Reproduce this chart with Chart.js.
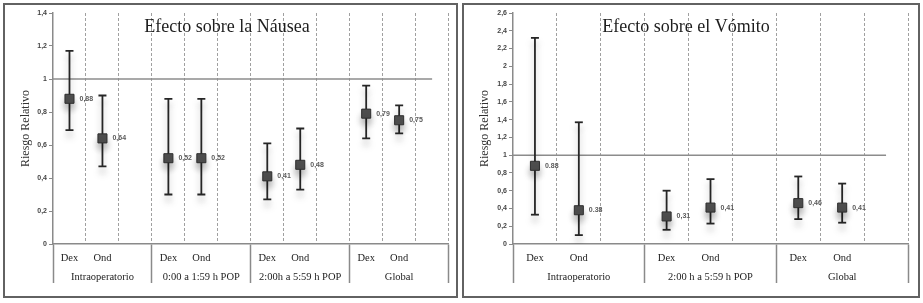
<!DOCTYPE html>
<html>
<head>
<meta charset="utf-8">
<script src="https://cdn.jsdelivr.net/npm/chart.js@4.4.1/dist/chart.umd.min.js"></script>
<style>
  body { margin: 0; background: #fff; }
  .panel { position: absolute; top: 3px; height: 295px; border: 2px solid #626262; box-sizing: border-box; background: #fff; }
  #panelNausea { left: 3px; width: 455px; }
  #panelVomito { left: 462px; width: 458px; }
  canvas { display: block; }
</style>
</head>
<body>
<div class="panel" id="panelNausea"><canvas id="nauseaChart" width="451" height="291"></canvas></div>
<div class="panel" id="panelVomito"><canvas id="vomitoChart" width="454" height="291"></canvas></div>
<script>
// arms inside every group
const arms = ["Dex", "Ond"];

// Efecto sobre la Nausea
const nauseaGroups = ["Intraoperatorio", "0:00 a 1:59 h POP", "2:00h a 5:59 h POP", "Global"];
const nauseaRR = [0.88, 0.64, 0.52, 0.52, 0.41, 0.48, 0.79, 0.75];
const nauseaLow = [0.69, 0.47, 0.30, 0.30, 0.27, 0.33, 0.64, 0.67];
const nauseaHigh = [1.17, 0.90, 0.88, 0.88, 0.61, 0.70, 0.96, 0.84];
const nauseaText = ["0,88", "0,64", "0,52", "0,52", "0,41", "0,48", "0,79", "0,75"];
const nauseaYMax = 1.4;

// Efecto sobre el Vomito
const vomitoGroups = ["Intraoperatorio", "2:00 h a 5:59 h POP", "Global"];
const vomitoRR = [0.88, 0.38, 0.31, 0.41, 0.46, 0.41];
const vomitoLow = [0.33, 0.10, 0.16, 0.23, 0.28, 0.24];
const vomitoHigh = [2.32, 1.37, 0.60, 0.73, 0.76, 0.68];
const vomitoText = ["0.88", "0.38", "0,31", "0,41", "0,46", "0,41"];
const vomitoYMax = 2.6;

const referenceRR = 1;

const serif = "'Liberation Serif', 'DejaVu Serif', serif";
const axisGray = "#8a8a8a";

// values written next to the squares
const valueLabelPlugin = {
  id: "valueLabels",
  afterDatasetsDraw(chart) {
    const meta = chart.getDatasetMeta(0);
    const texts = chart.data.datasets[0].valueText;
    const ctx = chart.ctx;
    ctx.save();
    ctx.font = "bold 7px 'Liberation Sans', sans-serif";
    ctx.fillStyle = "#5a5a5a";
    ctx.textBaseline = "middle";
    meta.data.forEach((pt, i) => ctx.fillText(texts[i], pt.x + 10, pt.y));
    ctx.restore();
  },
};

// soft shadow under squares and whiskers (like the excel effect)
const shadowPlugin = {
  id: "softShadow",
  beforeDatasetDraw(chart, args) {
    if (args.index > 1) return;
    const ctx = chart.ctx;
    ctx.save();
    ctx.shadowColor = "rgba(0,0,0,0.28)";
    ctx.shadowBlur = 7;
    ctx.shadowOffsetY = 6;
  },
  afterDatasetDraw(chart, args) {
    if (args.index > 1) return;
    chart.ctx.restore();
  },
};

function buildChart(canvasId, title, groups, rr, low, high, texts, yMax, yWidth, padRight) {
  const nCols = groups.length * 3;

  // two line labels: arm on first line, group name under the "Ond" column
  const axisLabels = [];
  groups.forEach((g) => {
    axisLabels.push([arms[0], ""]);
    axisLabels.push([arms[1], g]);
    axisLabels.push(["", ""]);
  });

  const points = [];
  const whiskers = [];
  rr.forEach((v, i) => {
    const col = Math.floor(i / 2) * 3 + (i % 2);
    points.push({ x: col, y: v });
    whiskers.push({ x: col, y: low[i] });
    whiskers.push({ x: col, y: high[i] });
    whiskers.push({ x: col, y: null });
  });

  return new Chart(document.getElementById(canvasId), {
    type: "line",
    data: {
      labels: axisLabels,
      datasets: [
        {
          label: "RR",
          data: points,
          valueText: texts,
          xAxisID: "xd",
          showLine: false,
          pointStyle: "rect",
          pointRadius: 6.4,
          pointBackgroundColor: "#4f4f4f",
          pointBorderColor: "#2e2e2e",
          pointBorderWidth: 1,
        },
        {
          label: "IC",
          data: whiskers,
          xAxisID: "xd",
          borderColor: "#262626",
          borderWidth: 1.8,
          spanGaps: false,
          pointStyle: "line",
          pointRadius: 4,
          pointBorderColor: "#262626",
          pointBorderWidth: 1.8,
        },
        {
          label: "ref",
          data: [{ x: -0.5, y: referenceRR }, { x: nCols - 1, y: referenceRR }],
          xAxisID: "xd",
          borderColor: "#8c8c8c",
          borderWidth: 1.5,
          pointRadius: 0,
        },
      ],
    },
    options: {
      responsive: false,
      animation: false,
      events: [],
      layout: { padding: { top: 8, right: padRight, bottom: 0, left: 0 } },
      plugins: {
        legend: { display: false },
        tooltip: { enabled: false },
        title: {
          display: true,
          text: title,
          color: "#1e1e1e",
          font: { family: serif, size: 18, weight: "normal", lineHeight: 1.2 },
          padding: { top: 3, bottom: -24.6 },
        },
      },
      scales: {
        x: {
          type: "category",
          offset: true,
          grid: {
            offset: true,
            color: (c) => (c.index === 0 ? "rgba(0,0,0,0)" : "#a0a0a0"),
            lineWidth: 1,
            drawTicks: true,
            tickLength: 39,
            tickWidth: 1.5,
            tickColor: (c) => (c.index === undefined || c.index % 3 === 0 ? axisGray : "rgba(0,0,0,0)"),
          },
          border: { color: axisGray, width: 1.5, dash: [3, 2] },
          ticks: {
            autoSkip: false,
            maxRotation: 0,
            padding: -35,
            color: "#222",
            font: { family: serif, size: 10.5, lineHeight: 1.86 },
          },
          afterFit: (s) => { s.height = 52; },
        },
        xd: {
          type: "linear",
          display: false,
          min: -0.5,
          max: nCols - 0.5,
        },
        y: {
          min: 0,
          max: yMax,
          grid: { drawOnChartArea: false, drawTicks: true, tickLength: 4, tickColor: axisGray },
          border: { color: axisGray, width: 1.5 },
          ticks: {
            stepSize: 0.2,
            padding: 2,
            color: "#444",
            font: { family: "'Liberation Sans', sans-serif", size: 7, weight: "bold" },
            callback: (v) => String(Math.round(v * 10) / 10).replace(".", ","),
          },
          title: {
            display: true,
            text: "Riesgo Relativo",
            color: "#333",
            font: { family: serif, size: 12 },
            padding: { top: 14, bottom: 0 },
          },
          afterFit: (s) => { s.width = yWidth; },
        },
      },
    },
    plugins: [valueLabelPlugin, shadowPlugin],
  });
}

buildChart("nauseaChart", "Efecto sobre la Náusea", nauseaGroups, nauseaRR, nauseaLow, nauseaHigh, nauseaText, nauseaYMax, 48, 7);
buildChart("vomitoChart", "Efecto sobre el Vómito", vomitoGroups, vomitoRR, vomitoLow, vomitoHigh, vomitoText, vomitoYMax, 49, 10);
</script>
</body>
</html>
